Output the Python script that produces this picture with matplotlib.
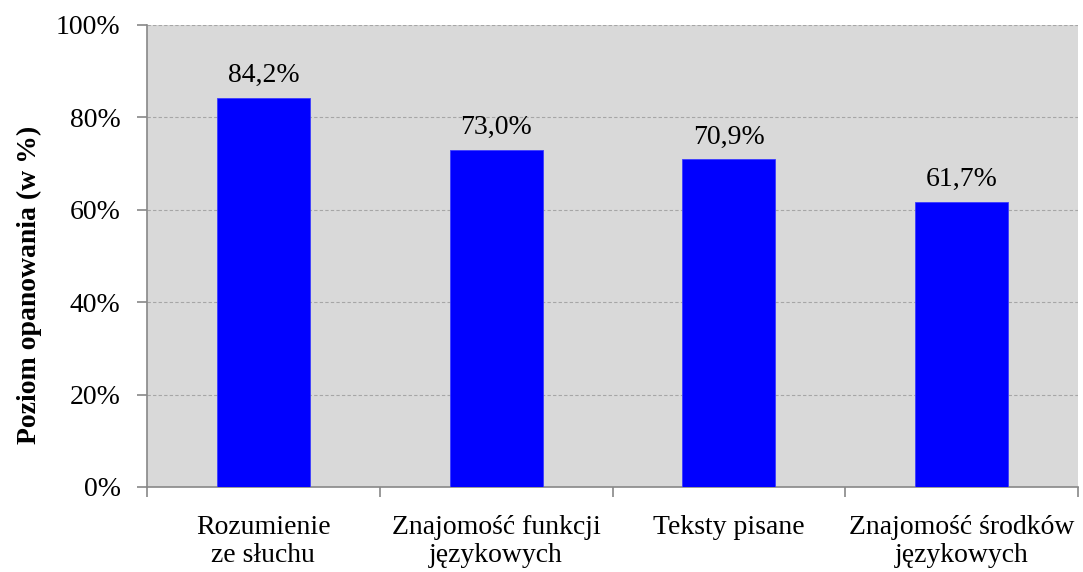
import matplotlib.pyplot as plt
from matplotlib.ticker import FixedLocator

plt.rcParams['font.family'] = ['Liberation Serif', 'DejaVu Serif']

kategorie = ['Rozumienie\nze słuchu', 'Znajomość funkcji\njęzykowych',
             'Teksty pisane', 'Znajomość środków\njęzykowych']
wyniki = [84.2, 73.0, 70.9, 61.7]
etykiety = ['84,2%', '73,0%', '70,9%', '61,7%']

fig = plt.figure(figsize=(10.83, 5.72), dpi=100)
ax = fig.add_axes([147 / 1083, 1 - 487 / 572, (1078 - 147) / 1083, (487 - 25) / 572])
ax.set_facecolor('#d9d9d9')

x = range(len(kategorie))
ax.bar(x, wyniki, width=0.4, color='#0000ff', edgecolor='#3b3bff', linewidth=0.6, zorder=3)

for i, (v, t) in enumerate(zip(wyniki, etykiety)):
    ax.annotate(t, (i, v), xytext=(0, 7), textcoords='offset points',
                ha='center', va='bottom', fontsize=20)

ax.set_xlim(-0.5, len(kategorie) - 0.5)
ax.set_ylim(0, 100)
ax.set_yticks(range(0, 101, 20))
ax.set_yticklabels([f'{t}%' for t in range(0, 101, 20)], fontsize=20)
ax.yaxis.grid(True, color='#a6a6a6', linestyle=(0, (3, 2)), linewidth=0.8, zorder=0)

# podziałki między kategoriami, podpisy pośrodku
ax.xaxis.set_major_locator(FixedLocator([i - 0.5 for i in range(len(kategorie) + 1)]))
ax.xaxis.set_minor_locator(FixedLocator(list(x)))
ax.set_xticklabels([])
ax.set_xticklabels(kategorie, minor=True, fontsize=20, linespacing=1.15)
ax.tick_params(axis='x', which='major', length=7, color='#888888', width=1.2)
ax.tick_params(axis='x', which='minor', length=0, pad=20)
ax.tick_params(axis='y', length=7, color='#888888', width=1.2, pad=12)

for s in ['top', 'right']:
    ax.spines[s].set_visible(False)
for s in ['left', 'bottom']:
    ax.spines[s].set_color('#888888')
    ax.spines[s].set_linewidth(1.2)

ax.set_ylabel('Poziom opanowania (w %)', fontsize=20, fontweight='bold')
ax.yaxis.set_label_coords(-0.113, 0.437)

plt.savefig('out.png')
